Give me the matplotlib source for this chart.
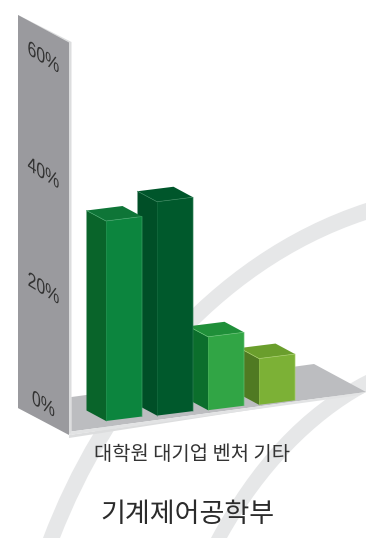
import matplotlib
matplotlib.use('Agg')
import matplotlib.pyplot as plt
from matplotlib.patches import Polygon, PathPatch
from matplotlib.patheffects import AbstractPathEffect
from matplotlib.path import Path
from matplotlib.transforms import Affine2D

categories = ['대학원', '대기업', '벤처', '기타']
values = [34.6, 37, 12.7, 8]
tick_values = [0, 20, 40, 60]
tick_labels = ['0%', '20%', '40%', '60%']
title = '기계제어공학부'

front_cols = ['#0c853e', '#00592c', '#31a545', '#7cb136']
side_cols = ['#09642a', '#004f27', '#0b6e2c', '#507a22']
top_cols = ['#0e7537', '#00562b', '#1f8f39', '#6a9e2c']
edge_cols = ['#3fa267', '#2f7f55', '#62c071', '#a4cc66']

px_per_pct = 5.78
bar_w = 36
bar_step = 51
rise = 4.5            # front face climbs this much across its width
dx, dy = -19.5, -10.5  # depth direction
wall_slope = 0.62

plt.rcParams['font.family'] = ['Noto Sans CJK KR', 'DejaVu Sans']
fig = plt.figure(figsize=(3.66, 5.38), dpi=100)
ax = fig.add_axes([0, 0, 1, 1])
ax.set_xlim(0, 366)
ax.set_ylim(538, 0)
ax.axis('off')


class WallSkew(AbstractPathEffect):
    # squeeze and shear glyphs about a display x so they lie flat on the wall
    def __init__(self, cx, sx, k):
        super().__init__()
        self.skew = Affine2D.from_values(sx, -k * sx, 0, 1, cx * (1 - sx), k * sx * cx)

    def draw_path(self, renderer, gc, tpath, affine, rgbFace=None):
        renderer.draw_path(gc, tpath, affine + self.skew, rgbFace)


def band(outer, inner):
    verts = outer + inner[::-1] + [outer[0]]
    codes = [Path.MOVETO, Path.CURVE4, Path.CURVE4, Path.CURVE4,
             Path.LINETO, Path.CURVE4, Path.CURVE4, Path.CURVE4, Path.CLOSEPOLY]
    ax.add_patch(PathPatch(Path(verts, codes), fc='#e6e7e8', ec='none', zorder=1))


# swooshes behind the chart
band([(43, 538), (95, 400), (205, 255), (366, 203)],
     [(60, 538), (112, 405), (215, 270), (366, 220)])
band([(211, 538), (250, 465), (300, 408), (366, 375)],
     [(227, 538), (265, 470), (315, 420), (366, 392)])

# wall and floor
ax.add_patch(Polygon([(18, 15), (71.5, 42), (71.5, 435), (18, 408)], fc='#dcddde', ec='none', zorder=2))
ax.add_patch(Polygon([(18, 15), (69, 42.5), (69, 435), (18, 408)], fc='#9a9a9e', ec='none', zorder=3))
ax.add_patch(Polygon([(69, 438), (366, 392), (366, 392), (69, 435)], fc='#dcddde', ec='none', zorder=2))
ax.add_patch(Polygon([(71.5, 397), (314, 364), (366, 392), (71.5, 431.5)], fc='#bcbdc0', ec='none', zorder=3))
ax.add_patch(Polygon([(69, 435), (71.5, 431.5), (366, 392), (360, 395)], fc='#e2e3e4', ec='none', zorder=3))

cx = ax.transData.transform((43.5, 0))[0]
for v, lab in zip(tick_values, tick_labels):
    ax.text(43.5, 405 - v * px_per_pct, lab, family='Liberation Sans', fontsize=15, color='#333333',
            ha='center', va='center', zorder=4, path_effects=[WallSkew(cx, 0.76, wall_slope)])

# bars go right to left so nearer ones sit on top
for i in range(len(values) - 1, -1, -1):
    x0 = 106 + i * bar_step
    y0 = 421 - i * 5.4
    h = values[i] * px_per_pct
    x1 = x0 + bar_w
    y1 = y0 - rise
    z = 10 + (len(values) - i)
    ax.add_patch(Polygon([(x0, y0), (x1, y1), (x1, y1 - h), (x0, y0 - h)],
                         fc=front_cols[i], ec='none', zorder=z))
    ax.add_patch(Polygon([(x0, y0), (x0 + dx, y0 + dy), (x0 + dx, y0 + dy - h), (x0, y0 - h)],
                         fc=side_cols[i], ec='none', zorder=z))
    ax.add_patch(Polygon([(x0, y0 - h), (x1, y1 - h), (x1 + dx, y1 + dy - h), (x0 + dx, y0 + dy - h)],
                         fc=top_cols[i], ec='none', zorder=z))
    ax.plot([x0 + dx, x0, x1, x1], [y0 + dy - h, y0 - h, y1 - h, y1], color=edge_cols[i],
            lw=0.5, zorder=z)
    ax.plot([x0, x0], [y0 - h, y0], color=edge_cols[i], lw=0.4, alpha=0.6, zorder=z)

ax.text(191.5, 455, ' '.join(categories), fontsize=14.3, color='#333333', ha='center', va='center', zorder=20)
ax.text(187.5, 515, title, fontsize=19.5, color='#2b2b2b', ha='center', va='center', zorder=20)

fig.savefig('out.png', dpi=100)
